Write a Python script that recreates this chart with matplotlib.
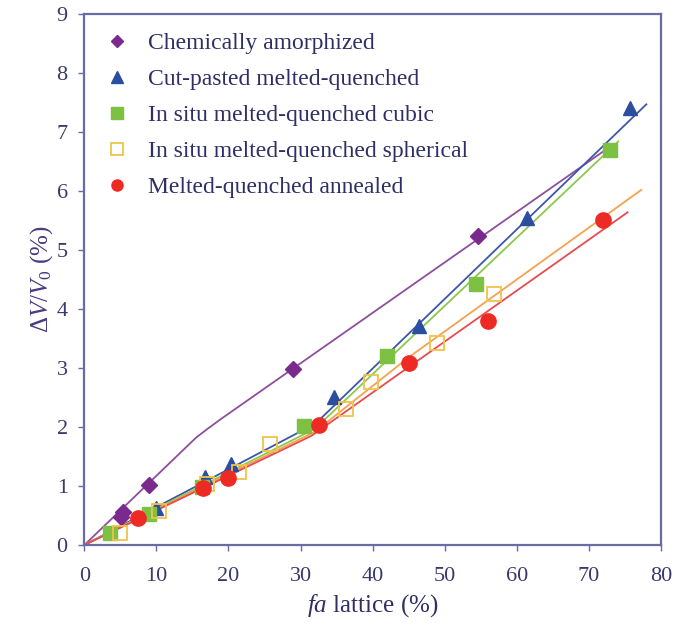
import matplotlib
matplotlib.use("Agg")
import matplotlib.pyplot as plt
from matplotlib.lines import Line2D

plt.rcParams["font.family"] = ["Liberation Serif", "DejaVu Serif"]
plt.rcParams["mathtext.fontset"] = "custom"
plt.rcParams["mathtext.rm"] = "Liberation Serif"
plt.rcParams["mathtext.it"] = "Liberation Serif:italic"

# Measured points: lattice fraction (%) vs volume change (%)
chem_x = [5.1, 5.4, 8.9, 28.9, 54.6]
chem_y = [0.47, 0.56, 1.02, 2.98, 5.23]

cut_x = [9.9, 16.7, 20.4, 34.7, 46.5, 61.4, 75.7]
cut_y = [0.62, 1.15, 1.38, 2.51, 3.71, 5.54, 7.40]

cubic_x = [3.5, 9.0, 16.3, 30.5, 42.0, 54.3, 73.0]
cubic_y = [0.20, 0.53, 0.98, 2.02, 3.20, 4.42, 6.69]

spher_x = [4.9, 10.4, 17.0, 21.5, 25.7, 36.3, 39.8, 49.0, 56.9]
spher_y = [0.20, 0.58, 1.03, 1.24, 1.72, 2.30, 2.77, 3.43, 4.25]

anneal_x = [7.4, 16.5, 20.0, 32.6, 45.1, 56.0, 72.0]
anneal_y = [0.45, 0.97, 1.13, 2.03, 3.09, 3.80, 5.51]

# Trend curves through each series
chem_fit_x = [0, 15.5, 17.1, 19.0, 72.7]
chem_fit_y = [0, 1.82, 1.97, 2.14, 6.73]
cut_fit_x = [0, 32.1, 78.0]
cut_fit_y = [0, 2.06, 7.47]
cubic_fit_x = [0, 32.0, 74.1]
cubic_fit_y = [0, 1.97, 6.84]
spher_fit_x = [0, 32.0, 45.0, 77.3]
spher_fit_y = [0, 1.92, 3.18, 6.02]
anneal_fit_x = [0, 31.5, 75.4]
anneal_fit_y = [0, 1.85, 5.64]

labels = ["Chemically amorphized", "Cut-pasted melted-quenched",
          "In situ melted-quenched cubic", "In situ melted-quenched spherical",
          "Melted-quenched annealed"]

x_ticks = [0, 10, 20, 30, 40, 50, 60, 70, 80]
y_ticks = [0, 1, 2, 3, 4, 5, 6, 7, 8, 9]

axis_col = "#6a6aa6"
text_col = "#2f2f66"

fig = plt.figure(figsize=(6.89, 6.25), dpi=100)
ax = fig.add_axes([0.1225, 0.128, 0.8365, 0.8495])

# fitted lines
ax.plot(chem_fit_x, chem_fit_y, color="#8e4e9e", lw=1.3, zorder=2)
ax.plot(cut_fit_x, cut_fit_y, color="#3d57a6", lw=1.3, zorder=2)
ax.plot(cubic_fit_x, cubic_fit_y, color="#8cc84b", lw=1.3, zorder=2)
ax.plot(spher_fit_x, spher_fit_y, color="#f4a24e", lw=1.3, zorder=2)
ax.plot(anneal_fit_x, anneal_fit_y, color="#e94a4e", lw=1.3, zorder=2)

# markers
ax.plot(chem_x, chem_y, ls="none", marker="D", ms=8.5, color="#7a2a8c", zorder=3)
ax.plot(cut_x, cut_y, ls="none", marker="^", ms=10, color="#2c4ea0", zorder=3)
ax.plot(cubic_x, cubic_y, ls="none", marker="s", ms=10, color="#7cc142", zorder=4)
ax.plot(spher_x, spher_y, ls="none", marker="s", ms=10, mfc="none",
        mec="#f2c34a", mew=1.3, zorder=4)
ax.plot(anneal_x, anneal_y, ls="none", marker="o", ms=11, color="#ee2a24", zorder=5)

ax.set_xlim(0, 80)
ax.set_ylim(0, 9)
ax.set_xticks(x_ticks)
ax.set_yticks(y_ticks)
ax.tick_params(direction="out", length=4, width=1, color=axis_col,
               labelcolor="#3a3a6a", labelsize=16)
ax.tick_params(axis="x", pad=12)
ax.tick_params(axis="y", pad=8)
for s in ax.spines.values():
    s.set_color(axis_col)
    s.set_linewidth(1.6)

ax.set_xlabel(r"$fa$ lattice (%)", fontsize=18, color=text_col, labelpad=4)
ax.set_ylabel(r"$\Delta V/V_{\mathit{0}}$ (%)", fontsize=18, color="#4a3a80",
              labelpad=1)

handles = [
    Line2D([], [], ls="none", marker="D", ms=6, color="#7a2a8c"),
    Line2D([], [], ls="none", marker="^", ms=8, color="#2c4ea0"),
    Line2D([], [], ls="none", marker="s", ms=8, color="#7cc142"),
    Line2D([], [], ls="none", marker="s", ms=8, mfc="none", mec="#f2c34a", mew=1.3),
    Line2D([], [], ls="none", marker="o", ms=8, color="#ee2a24"),
]
leg = ax.legend(handles, labels, loc="upper left", bbox_to_anchor=(0.02, 0.983),
                frameon=False, fontsize=17, labelspacing=0.61, handlelength=1.0,
                handletextpad=0.8, borderaxespad=0.0)
for t in leg.get_texts():
    t.set_color(text_col)

fig.savefig("out.png", dpi=100)
